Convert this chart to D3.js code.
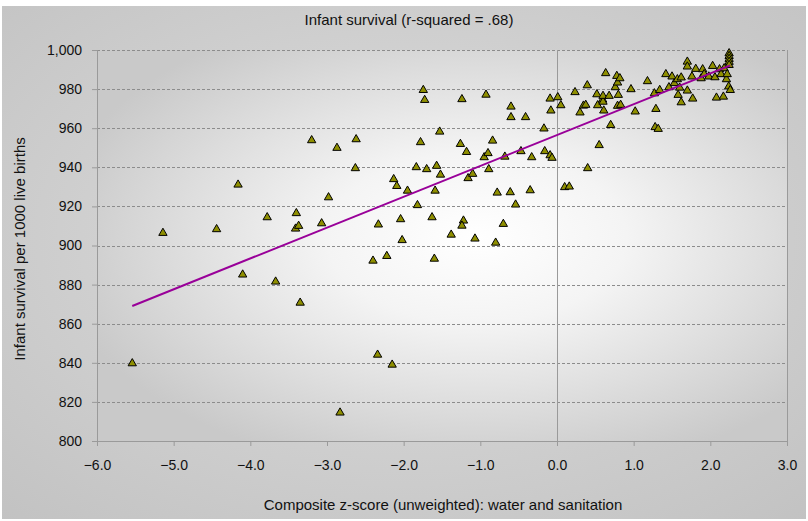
<!DOCTYPE html>
<html>
<head>
<meta charset="utf-8">
<script src="https://cdn.jsdelivr.net/npm/d3@7/dist/d3.min.js"></script>
<style>
  html, body { margin: 0; padding: 0; background: #ffffff; }
  svg { display: block; }
  text { font-family: "Liberation Sans Narrow", "Arial Narrow", "Liberation Sans", Arial, sans-serif; fill: #111; }
</style>
</head>
<body>
<svg id="chart" width="808" height="521"></svg>
<script>
// Composite water & sanitation z-score per country
const zScore = [
  -5.54, -5.14, -4.44, -4.16, -4.10, -3.78, -3.67, -3.40, -3.41, -3.37,
  -3.35, -3.20, -3.07, -2.98, -2.87, -2.83, -2.62, -2.63, -2.40, -2.34,
  -2.33, -2.22, -2.15, -2.13, -2.09, -2.04, -2.02, -1.95, -1.835, -1.82,
  -1.78, -1.744, -1.726, -1.70, -1.63, -1.60, -1.59, -1.57, -1.53, -1.52,
  -1.38, -1.26, -1.24, -1.22, -1.24, -1.18, -1.16, -1.10, -1.07, -0.95,
  -0.926, -0.90, -0.89, -0.84, -0.80, -0.78, -0.70, -0.68, -0.61, -0.60,
  -0.60, -0.54, -0.47, -0.41, -0.35, -0.33, -0.17, -0.16, -0.09, -0.09,
  -0.08, -0.065, 0.01, 0.05, 0.10, 0.16, 0.235, 0.30, 0.345, 0.375,
  0.395, 0.40, 0.52, 0.53, 0.55, 0.595, 0.60, 0.60, 0.61, 0.635,
  0.68, 0.70, 0.76, 0.78, 0.79, 0.79, 0.80, 0.82, 0.83, 0.965,
  1.02, 1.18, 1.27, 1.28, 1.29, 1.32, 1.34, 1.42, 1.46, 1.50,
  1.53, 1.57, 1.58, 1.60, 1.62, 1.62, 1.70, 1.70, 1.70, 1.76,
  1.77, 1.81, 1.88, 1.90, 1.92, 1.98, 2.03, 2.06, 2.08, 2.12,
  2.14, 2.17, 2.18, 2.21, 2.22, 2.24, 2.26, 2.245, 2.245, 2.245,
  2.245, 2.245
];

// Infant survival per 1000 live births, same country order
const survival = [
  839.7, 906.4, 908.3, 931.1, 885.1, 914.4, 881.5, 916.5, 908.6, 910.0,
  870.7, 953.8, 911.3, 924.6, 949.9, 814.5, 954.3, 939.5, 892.2, 844.1,
  910.7, 894.6, 839.0, 933.9, 930.4, 913.4, 902.7, 928.0, 940.0, 920.6,
  952.8, 979.5, 974.4, 939.0, 914.4, 893.2, 928.0, 940.7, 958.2, 936.2,
  905.5, 951.9, 974.8, 912.7, 910.1, 947.8, 934.4, 936.6, 903.5, 945.1,
  977.1, 947.2, 939.0, 953.6, 901.4, 927.0, 911.0, 945.4, 927.2, 971.0,
  965.6, 920.9, 948.2, 965.6, 928.2, 945.1, 959.8, 948.2, 975.1, 946.1,
  969.0, 944.8, 975.8, 971.7, 929.8, 930.1, 978.4, 968.0, 971.5, 971.9,
  981.9, 939.5, 977.3, 971.7, 951.3, 974.6, 973.5, 976.5, 969.0, 988.1,
  976.5, 961.6, 980.9, 986.7, 983.3, 971.4, 977.0, 985.5, 971.9, 979.9,
  968.5, 984.0, 977.8, 960.5, 969.8, 959.6, 979.5, 987.6, 980.9, 986.4,
  983.0, 985.0, 977.0, 980.7, 973.2, 985.9, 994.0, 991.5, 979.2, 986.4,
  975.1, 990.3, 985.5, 990.1, 987.6, 986.4, 991.8, 986.0, 975.6, 990.1,
  987.6, 976.1, 990.6, 985.0, 987.6, 981.3, 979.5, 998.3, 996.9, 995.4,
  993.9, 992.3
];

const xTicks = [-6, -5, -4, -3, -2, -1, 0, 1, 2, 3];
const yTicks = [800, 820, 840, 860, 880, 900, 920, 940, 960, 980, 1000];

const titleText = "Infant survival (r-squared = .68)";
const xTitle = "Composite z-score (unweighted): water and sanitation";
const yTitle = "Infant survival per 1000 live births";

const W = 808, H = 521;
const margin = { top: 50, right: 21, bottom: 80, left: 97 };
const iw = W - margin.left - margin.right;
const ih = H - margin.top - margin.bottom;

const svg = d3.select("#chart");
const defs = svg.append("defs");

const outerGrad = defs.append("radialGradient")
  .attr("id", "outerBg").attr("cx", "50%").attr("cy", "45%").attr("r", "75%");
outerGrad.append("stop").attr("offset", "0%").attr("stop-color", "#dedede");
outerGrad.append("stop").attr("offset", "100%").attr("stop-color", "#c2c2c2");

const plotGrad = defs.append("radialGradient")
  .attr("id", "plotBg").attr("cx", "55%").attr("cy", "48%").attr("r", "62%");
plotGrad.append("stop").attr("offset", "0%").attr("stop-color", "#ffffff");
plotGrad.append("stop").attr("offset", "35%").attr("stop-color", "#f4f4f4");
plotGrad.append("stop").attr("offset", "100%").attr("stop-color", "#c9c9c9");

svg.append("rect")
  .attr("x", 2).attr("y", 6).attr("width", W - 4).attr("height", H - 8)
  .attr("fill", "url(#outerBg)");

const g = svg.append("g").attr("transform", `translate(${margin.left},${margin.top})`);

const x = d3.scaleLinear().domain([-6, 3]).range([0, iw]);
const y = d3.scaleLinear().domain([800, 1000]).range([ih, 0]);

g.append("rect")
  .attr("width", iw).attr("height", ih)
  .attr("fill", "url(#plotBg)");

// dashed horizontal gridlines
g.append("g")
  .selectAll("line")
  .data(yTicks.filter(d => d > 800))
  .join("line")
  .attr("x1", 0).attr("x2", iw)
  .attr("y1", d => Math.round(y(d)) + 0.5).attr("y2", d => Math.round(y(d)) + 0.5)
  .attr("stroke", "#8c8c8c")
  .attr("stroke-width", 1)
  .attr("stroke-dasharray", "3,2");

// right frame edge
g.append("line")
  .attr("x1", iw + 0.5).attr("x2", iw + 0.5).attr("y1", 0).attr("y2", ih)
  .attr("stroke", "#9a9a9a");

// vertical line through zero
g.append("line")
  .attr("x1", Math.round(x(0)) + 0.5).attr("x2", Math.round(x(0)) + 0.5)
  .attr("y1", 0).attr("y2", ih)
  .attr("stroke", "#9a9a9a");

// axes
const yAxis = d3.axisLeft(y).tickValues(yTicks).tickSize(5).tickPadding(10)
  .tickFormat(d3.format(","));
const xAxis = d3.axisBottom(x).tickValues(xTicks).tickSize(5).tickPadding(14)
  .tickFormat(d3.format(".1f"));

const gy = g.append("g").call(yAxis);
const gx = g.append("g").attr("transform", `translate(0,${ih})`).call(xAxis);

[gx, gy].forEach(a => {
  a.select(".domain").attr("stroke", "#9a9a9a");
  a.selectAll(".tick line").attr("stroke", "#9a9a9a");
  a.selectAll(".tick text")
    .attr("font-family", '"Liberation Sans Narrow", "Arial Narrow", "Liberation Sans", Arial, sans-serif')
    .attr("font-size", 14).attr("fill", "#111");
});

// least-squares trend line
const n = zScore.length;
const mx = d3.mean(zScore), my = d3.mean(survival);
let sxy = 0, sxx = 0;
for (let i = 0; i < n; i++) {
  sxy += (zScore[i] - mx) * (survival[i] - my);
  sxx += (zScore[i] - mx) ** 2;
}
const slope = sxy / sxx;
const intercept = my - slope * mx;
const [xmin, xmax] = d3.extent(zScore);

// markers
const tri = d3.symbol().type(d3.symbolTriangle).size(30);
g.append("g")
  .selectAll("path")
  .data(d3.range(n))
  .join("path")
  .attr("d", tri)
  .attr("transform", i => `translate(${x(zScore[i])},${y(survival[i])})`)
  .attr("fill", "#8f8f00")
  .attr("stroke", "#000")
  .attr("stroke-width", 1);

g.append("line")
  .attr("x1", x(xmin)).attr("y1", y(intercept + slope * xmin))
  .attr("x2", x(xmax)).attr("y2", y(intercept + slope * xmax))
  .attr("stroke", "#990099")
  .attr("stroke-width", 2);

// titles
svg.append("text")
  .attr("x", 409).attr("y", 25)
  .attr("text-anchor", "middle").attr("font-size", 15)
  .text(titleText);

svg.append("text")
  .attr("x", 443).attr("y", 510)
  .attr("text-anchor", "middle").attr("font-size", 15)
  .text(xTitle);

svg.append("text")
  .attr("transform", "translate(25,249) rotate(-90)")
  .attr("text-anchor", "middle").attr("font-size", 15)
  .text(yTitle);
</script>
</body>
</html>
